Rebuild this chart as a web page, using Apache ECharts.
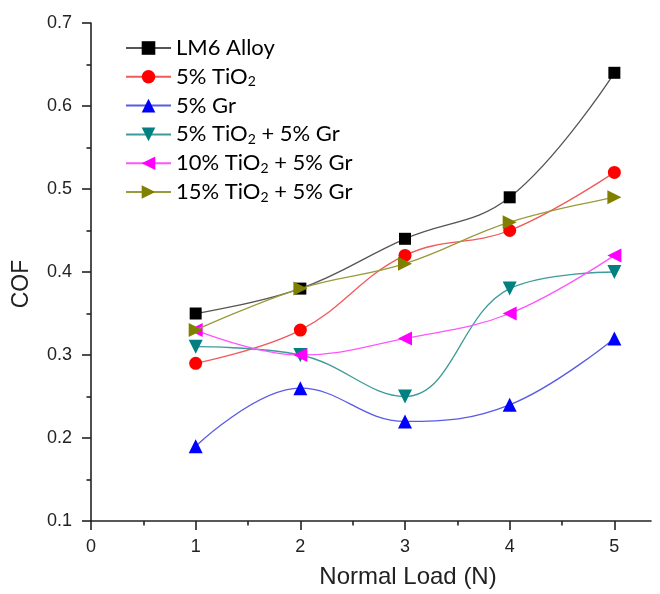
<!DOCTYPE html>
<html>
<head>
<meta charset="utf-8">
<script src="https://cdn.jsdelivr.net/npm/echarts@6/dist/echarts.min.js"></script>
<style>html,body{margin:0;padding:0;background:#fff;}#c{width:660px;height:594px;}</style>
</head>
<body>
<div id="c"></div>
<script>
const loads = [1, 2, 3, 4, 5];
const xLabelValues = [0, 1, 2, 3, 4, 5];
const xMinorValues = [0.5, 1.5, 2.5, 3.5, 4.5];
const seriesNames = ['LM6 Alloy', '5% TiO2', '5% Gr', '5% TiO2 + 5% Gr', '10% TiO2 + 5% Gr', '15% TiO2 + 5% Gr'];
const lm6 = [0.35, 0.38, 0.44, 0.49, 0.64];
const tio2_5 = [0.29, 0.33, 0.42, 0.45, 0.52];
const gr_5 = [0.19, 0.26, 0.22, 0.24, 0.32];
const tio2_5_gr5 = [0.31, 0.30, 0.25, 0.38, 0.40];
const tio2_10_gr5 = [0.33, 0.30, 0.32, 0.35, 0.42];
const tio2_15_gr5 = [0.33, 0.38, 0.41, 0.46, 0.49];

const allData = [lm6, tio2_5, gr_5, tio2_5_gr5, tio2_10_gr5, tio2_15_gr5];
const markerColors = ['#000000', '#ff0000', '#0000ff', '#008080', '#ff00ff', '#808000'];
const lineColors = ['#555555', '#f05a5a', '#5a5ae6', '#3f9a9a', '#ff55ff', '#9a9a3a'];
const symbols = ['rect', 'circle', 'triangle', 'path://M0,0L10,0L5,9Z', 'path://M9,0L9,10L0,5Z', 'path://M0,0L0,10L9,5Z'];
const symbolSizes = [12, 13, 14, 14, 14, 14];

const chart = echarts.init(document.getElementById('c'), null, {renderer: 'canvas'});
const axisColor = '#222';
const option = {
  animation: false,
  backgroundColor: '#fff',
  grid: {left: 91, right: 9, top: 23, bottom: 71},
  legend: {
    orient: 'vertical',
    left: 120,
    top: 31,
    itemWidth: 45,
    itemHeight: 17,
    itemGap: 4.8,
    data: seriesNames,
    formatter: function (name) { return name.replace('TiO2', 'TiO{sub|2}'); },
    textStyle: {
      fontFamily: 'Lato', fontSize: 22, color: '#000', lineHeight: 24,
      rich: {sub: {fontFamily: 'Lato', fontSize: 14, color: '#000', verticalAlign: 'bottom', lineHeight: 14}}
    }
  },
  xAxis: [{
    type: 'value', min: 0, max: 5.35,
    name: 'Normal Load (N)', nameLocation: 'middle', nameGap: 44,
    nameTextStyle: {fontFamily: 'Liberation Sans', fontSize: 24, color: '#222', padding: [0, 0, 0, 74]},
    axisLine: {show: true, lineStyle: {color: axisColor, width: 1.6}},
    axisTick: {show: true, inside: false, length: 9, customValues: xLabelValues, lineStyle: {color: axisColor, width: 1.6}},
    axisLabel: {customValues: xLabelValues, margin: 17, fontFamily: 'Liberation Sans', fontSize: 18, color: '#222'},
    splitLine: {show: false}
  }, {
    type: 'value', min: 0, max: 5.35, position: 'bottom', offset: 0,
    axisLine: {show: false},
    axisTick: {show: true, inside: false, length: 4.5, customValues: xMinorValues, lineStyle: {color: axisColor, width: 1.6}},
    axisLabel: {show: false},
    splitLine: {show: false}
  }],
  yAxis: {
    type: 'value', min: 0.1, max: 0.7, interval: 0.1,
    name: 'COF', nameLocation: 'middle', nameGap: 58, nameRotate: 90,
    nameTextStyle: {fontFamily: 'Liberation Sans', fontSize: 23, color: '#222', padding: [0, 24, 0, 0]},
    axisLine: {show: true, lineStyle: {color: axisColor, width: 1.6}},
    axisTick: {show: true, inside: false, length: 9, lineStyle: {color: axisColor, width: 1.6}},
    minorTick: {show: true, splitNumber: 2, length: 4.5, lineStyle: {color: axisColor, width: 1.6}},
    axisLabel: {margin: 19, fontFamily: 'Liberation Sans', fontSize: 18, color: '#222',
      formatter: function (v) { return v.toFixed(1); }},
    splitLine: {show: false}
  },
  series: seriesNames.map(function (name, i) {
    return {
      name: name,
      type: 'line',
      xAxisIndex: 0,
      data: loads.map(function (x, j) { return [x, allData[i][j]]; }),
      smooth: 0.4,
      symbol: symbols[i],
      symbolSize: symbolSizes[i],
      showAllSymbol: true,
      lineStyle: {color: lineColors[i], width: 1.3},
      itemStyle: {color: markerColors[i], opacity: 1},
      z: 2 + i
    };
  })
};
chart.setOption(option);
</script>
</body>
</html>
